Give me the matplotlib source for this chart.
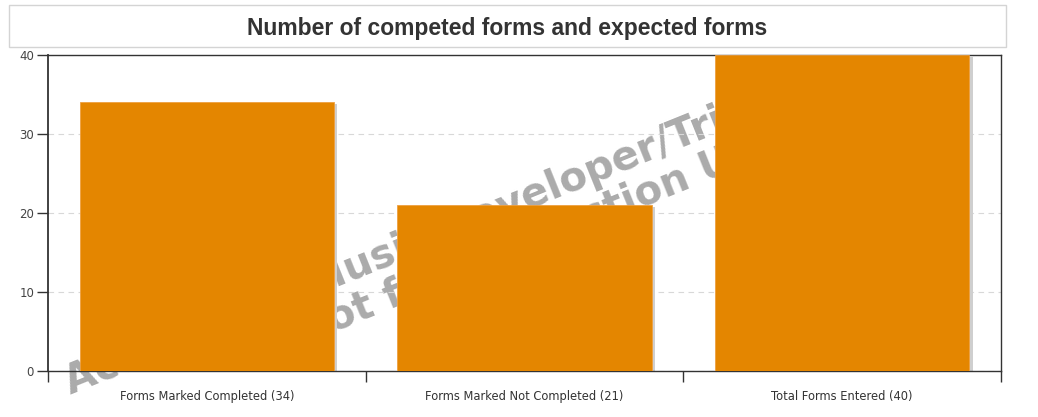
import matplotlib
matplotlib.use("Agg")
import matplotlib.pyplot as plt
from matplotlib.patches import Rectangle

# data
categories = ["Forms Marked Completed (34)",
              "Forms Marked Not Completed (21)",
              "Total Forms Entered (40)"]
values = [34, 21, 40]
y_ticks = [0, 10, 20, 30, 40]

title = "Number of competed forms and expected forms"
watermark_lines = ["Academic / Music Developer/Trial Use",
                   "Not for Production Use"]

W, H = 1038, 417
fig = plt.figure(figsize=(W / 100, H / 100), dpi=100)
fig.patch.set_facecolor("white")

ax = fig.add_axes([48 / W, 1 - 371 / H, (1001 - 48) / W, (371 - 55) / H])
ax.patch.set_alpha(0)

# watermark sits behind the (transparent) axes, bars cover it
for (px, py), line in zip([(71, 395), (302, 345)], watermark_lines):
    fig.text(px / W, 1 - py / H, line, rotation=22, rotation_mode="anchor",
             ha="left", va="baseline", fontsize=29, fontweight="bold",
             family="DejaVu Sans", color="#ababab", zorder=-1)

x = list(range(len(categories)))
# drop shadow then bars
ax.bar([i + 0.011 for i in x], [v - 0.25 for v in values], width=0.8,
       color="#cfcfcf", zorder=2)
ax.bar(x, values, width=0.8, color="#e48600", edgecolor="#eea040",
       linewidth=0.6, zorder=3)

ax.set_xlim(-0.5, len(categories) - 0.5)
ax.set_ylim(0, 40)
ax.set_yticks(y_ticks)
ax.yaxis.grid(True, linestyle=(0, (5, 4)), color="#d8d8d8", linewidth=0.8, zorder=1)
ax.set_axisbelow(True)

# category separators as major ticks, names as minor ticks
ax.set_xticks([i - 0.5 for i in range(len(categories) + 1)])
ax.set_xticklabels([])
ax.set_xticks(x, minor=True)
ax.set_xticklabels(categories, minor=True)
ax.tick_params(axis="x", which="major", length=8, width=1, color="#333333", direction="out")
ax.tick_params(axis="x", which="minor", length=0, pad=14, labelsize=8.3, labelcolor="#333333")
ax.tick_params(axis="y", length=8, width=1, color="#333333", pad=2,
               labelsize=8.5, labelcolor="#444444")

for s in ax.spines.values():
    s.set_color("#333333")
    s.set_linewidth(1)
ax.spines["left"].set_linewidth(1.3)

# title box
fig.patches.append(Rectangle((9 / W, 1 - 47 / H), (1006 - 9) / W, 42 / H,
                             transform=fig.transFigure, facecolor="white",
                             edgecolor="#d4d4d4", linewidth=1, zorder=5))
fig.text(507 / W, 1 - 28 / H, title, ha="center", va="center",
         fontsize=16.5, fontweight="bold", color="#333333",
         family="Liberation Sans", zorder=6)

fig.savefig("out.png", dpi=100)
